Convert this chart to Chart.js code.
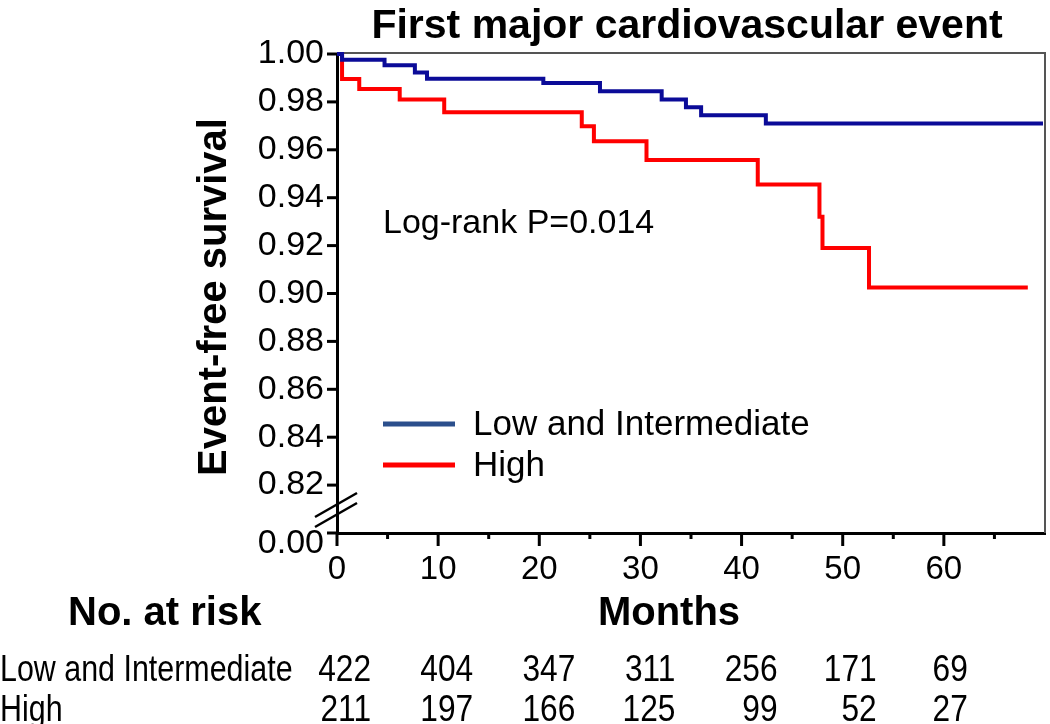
<!DOCTYPE html>
<html>
<head>
<meta charset="utf-8">
<script src="https://cdn.jsdelivr.net/npm/chart.js@4"></script>
<style>
  body { margin: 0; background: #fff; }
  #wrap { width: 1050px; height: 724px; position: relative; }
</style>
</head>
<body>
<div id="wrap"><canvas id="km"></canvas></div>
<script>
// Kaplan-Meier : mois / survie sans événement
const lowMonths = [0, 0.5, 4.7, 7.7, 8.9, 20.4, 26.0, 32.1, 34.5, 36.0, 42.4, 69.8];
const lowSurv = [1.0, 0.9976, 0.9953, 0.9923, 0.9897, 0.9879, 0.9844, 0.9810, 0.9778, 0.9744, 0.9710, 0.9710];
const highMonths = [0, 0.5, 2.2, 6.2, 10.6, 24.2, 25.4, 30.6, 41.6, 47.7, 48.0, 52.6, 68.3];
const highSurv = [1.0, 0.9896, 0.9854, 0.9810, 0.9757, 0.9698, 0.9636, 0.9557, 0.9455, 0.9320, 0.9190, 0.9025, 0.9025];

const groupLabels = ["Low and Intermediate", "High"];

// axes
const xTickValues = [0, 10, 20, 30, 40, 50, 60];
const xTickLabels = ["0", "10", "20", "30", "40", "50", "60"];
const xMinorTicks = [5, 15, 25, 35, 45, 55, 65];
const yTickValues = [0.80, 0.82, 0.84, 0.86, 0.88, 0.90, 0.92, 0.94, 0.96, 0.98, 1.00];
const yTickLabels = ["0.00", "0.82", "0.84", "0.86", "0.88", "0.90", "0.92", "0.94", "0.96", "0.98", "1.00"];

// nombre à risque
const riskMonths = [0, 10, 20, 30, 40, 50, 60];
const riskLow = [422, 404, 347, 311, 256, 171, 69];
const riskHigh = [211, 197, 166, 125, 99, 52, 27];

const FONT = "'Liberation Sans', Arial, sans-serif";
const legendColors = ["#2b4f8c", "#ff0000"];
// décalage des colonnes du tableau (bord droit des nombres)
const riskShift = [34, 35, 36, 35, 36, 34, 24];

function toPoints(xs, ys) {
    return xs.map((x, i) => ({ x: x, y: ys[i] }));
}

function seg(ctx, x1, y1, x2, y2) {
    ctx.beginPath();
    ctx.moveTo(x1, y1);
    ctx.lineTo(x2, y2);
    ctx.stroke();
}

// texte un peu étroit (comme dans le tableau d'origine)
function narrowText(ctx, text, x, y, sx, align) {
    ctx.save();
    ctx.translate(x, y);
    ctx.scale(sx, 1);
    ctx.textAlign = align;
    ctx.fillText(text, 0, 0);
    ctx.restore();
}

const decor = {
    id: "decor",
    beforeDatasetsDraw(chart) {
        const ctx = chart.ctx, a = chart.chartArea;
        ctx.save();
        // cadre haut et droite
        ctx.strokeStyle = "#555";
        ctx.lineWidth = 2;
        ctx.beginPath();
        ctx.moveTo(a.left, a.top - 1);
        ctx.lineTo(a.right, a.top - 1);
        ctx.lineTo(a.right, a.bottom);
        ctx.stroke();
        ctx.restore();
    },
    afterDraw(chart) {
        const ctx = chart.ctx, a = chart.chartArea;
        const xs = chart.scales.x, ys = chart.scales.y;
        ctx.save();
        ctx.strokeStyle = "#000";
        ctx.fillStyle = "#000";
        ctx.lineWidth = 3;

        // graduations
        yTickValues.forEach(v => {
            const y = ys.getPixelForValue(v);
            seg(ctx, a.left - 10, y, a.left, y);
        });
        xTickValues.forEach(v => {
            const x = xs.getPixelForValue(v);
            seg(ctx, x, a.bottom, x, a.bottom + 13);
        });
        xMinorTicks.forEach(v => {
            const x = xs.getPixelForValue(v);
            seg(ctx, x, a.bottom, x, a.bottom + 6);
        });

        // coupure de l'axe y
        ctx.lineWidth = 2.5;
        seg(ctx, a.left - 22, a.bottom - 16, a.left + 20, a.bottom - 40);
        seg(ctx, a.left - 22, a.bottom - 6, a.left + 20, a.bottom - 30);

        // étiquette 0.00 décalée vers le bas
        ctx.font = "34px " + FONT;
        ctx.textAlign = "right";
        ctx.textBaseline = "middle";
        ctx.fillText(yTickLabels[0], a.left - 13, a.bottom + 11);

        // titre
        ctx.textBaseline = "alphabetic";
        ctx.textAlign = "center";
        ctx.font = "bold 41px " + FONT;
        ctx.fillText("First major cardiovascular event", 687, 38);

        // titre axe y
        ctx.save();
        ctx.translate(226, 297);
        ctx.rotate(-Math.PI / 2);
        ctx.font = "bold 40px " + FONT;
        ctx.fillText("Event-free survival", 0, 0);
        ctx.restore();

        // titre axe x + tableau
        ctx.font = "bold 40px " + FONT;
        ctx.fillText("Months", 669, 625);
        ctx.textAlign = "left";
        ctx.fillText("No. at risk", 68, 625);

        // légende
        const legY = [424, 465];
        ctx.lineWidth = 5;
        ctx.font = "35px " + FONT;
        ctx.textBaseline = "middle";
        groupLabels.forEach((lab, i) => {
            ctx.strokeStyle = legendColors[i];
            seg(ctx, 383, legY[i], 455, legY[i]);
            ctx.fillText(lab, 473, legY[i] + 1);
        });

        // log-rank
        ctx.font = "34px " + FONT;
        ctx.fillText("Log-rank P=0.014", 383, 224);

        // nombre à risque
        ctx.textBaseline = "alphabetic";
        ctx.font = "36px " + FONT;
        const rows = [riskLow, riskHigh];
        const rowY = [681, 721];
        rows.forEach((vals, r) => {
            narrowText(ctx, groupLabels[r], 0, rowY[r], 0.845, "left");
            vals.forEach((n, i) => {
                const x = xs.getPixelForValue(riskMonths[i]) + riskShift[i];
                narrowText(ctx, String(n), x, rowY[r], 0.88, "right");
            });
        });
        ctx.restore();
    }
};

new Chart(document.getElementById("km"), {
    type: "line",
    data: {
        datasets: [
            {
                label: groupLabels[0],
                data: toPoints(lowMonths, lowSurv),
                borderColor: "#0b0b98",
                borderWidth: 4,
                stepped: "before",
                pointRadius: 0,
                fill: false,
                clip: false
            },
            {
                label: groupLabels[1],
                data: toPoints(highMonths, highSurv),
                borderColor: "#ff0000",
                borderWidth: 4,
                stepped: "before",
                pointRadius: 0,
                fill: false,
                clip: false
            }
        ]
    },
    options: {
        responsive: true,
        maintainAspectRatio: false,
        animation: false,
        layout: { padding: { top: 54, right: 5, left: 0, bottom: 0 } },
        plugins: {
            legend: { display: false },
            tooltip: { enabled: false },
            title: { display: false }
        },
        scales: {
            x: {
                type: "linear",
                min: 0,
                max: 70,
                afterFit: s => { s.height = 191; },
                afterBuildTicks: s => { s.ticks = xTickValues.map(v => ({ value: v })); },
                ticks: {
                    font: { family: FONT, size: 33 },
                    color: "#000",
                    padding: 17,
                    maxRotation: 0,
                    autoSkip: false,
                    callback: (v, i) => xTickLabels[i]
                },
                grid: { display: false, drawTicks: false },
                border: { color: "#000", width: 3 }
            },
            y: {
                min: 0.8,
                max: 1.0,
                afterFit: s => { s.width = 337; },
                afterBuildTicks: s => { s.ticks = yTickValues.map(v => ({ value: v })); },
                ticks: {
                    font: { family: FONT, size: 34 },
                    color: "#000",
                    padding: 13,
                    autoSkip: false,
                    callback: (v, i) => (i === 0 ? "" : yTickLabels[i])
                },
                grid: { display: false, drawTicks: false },
                border: { color: "#000", width: 3 }
            }
        }
    },
    plugins: [decor]
});
</script>
</body>
</html>
